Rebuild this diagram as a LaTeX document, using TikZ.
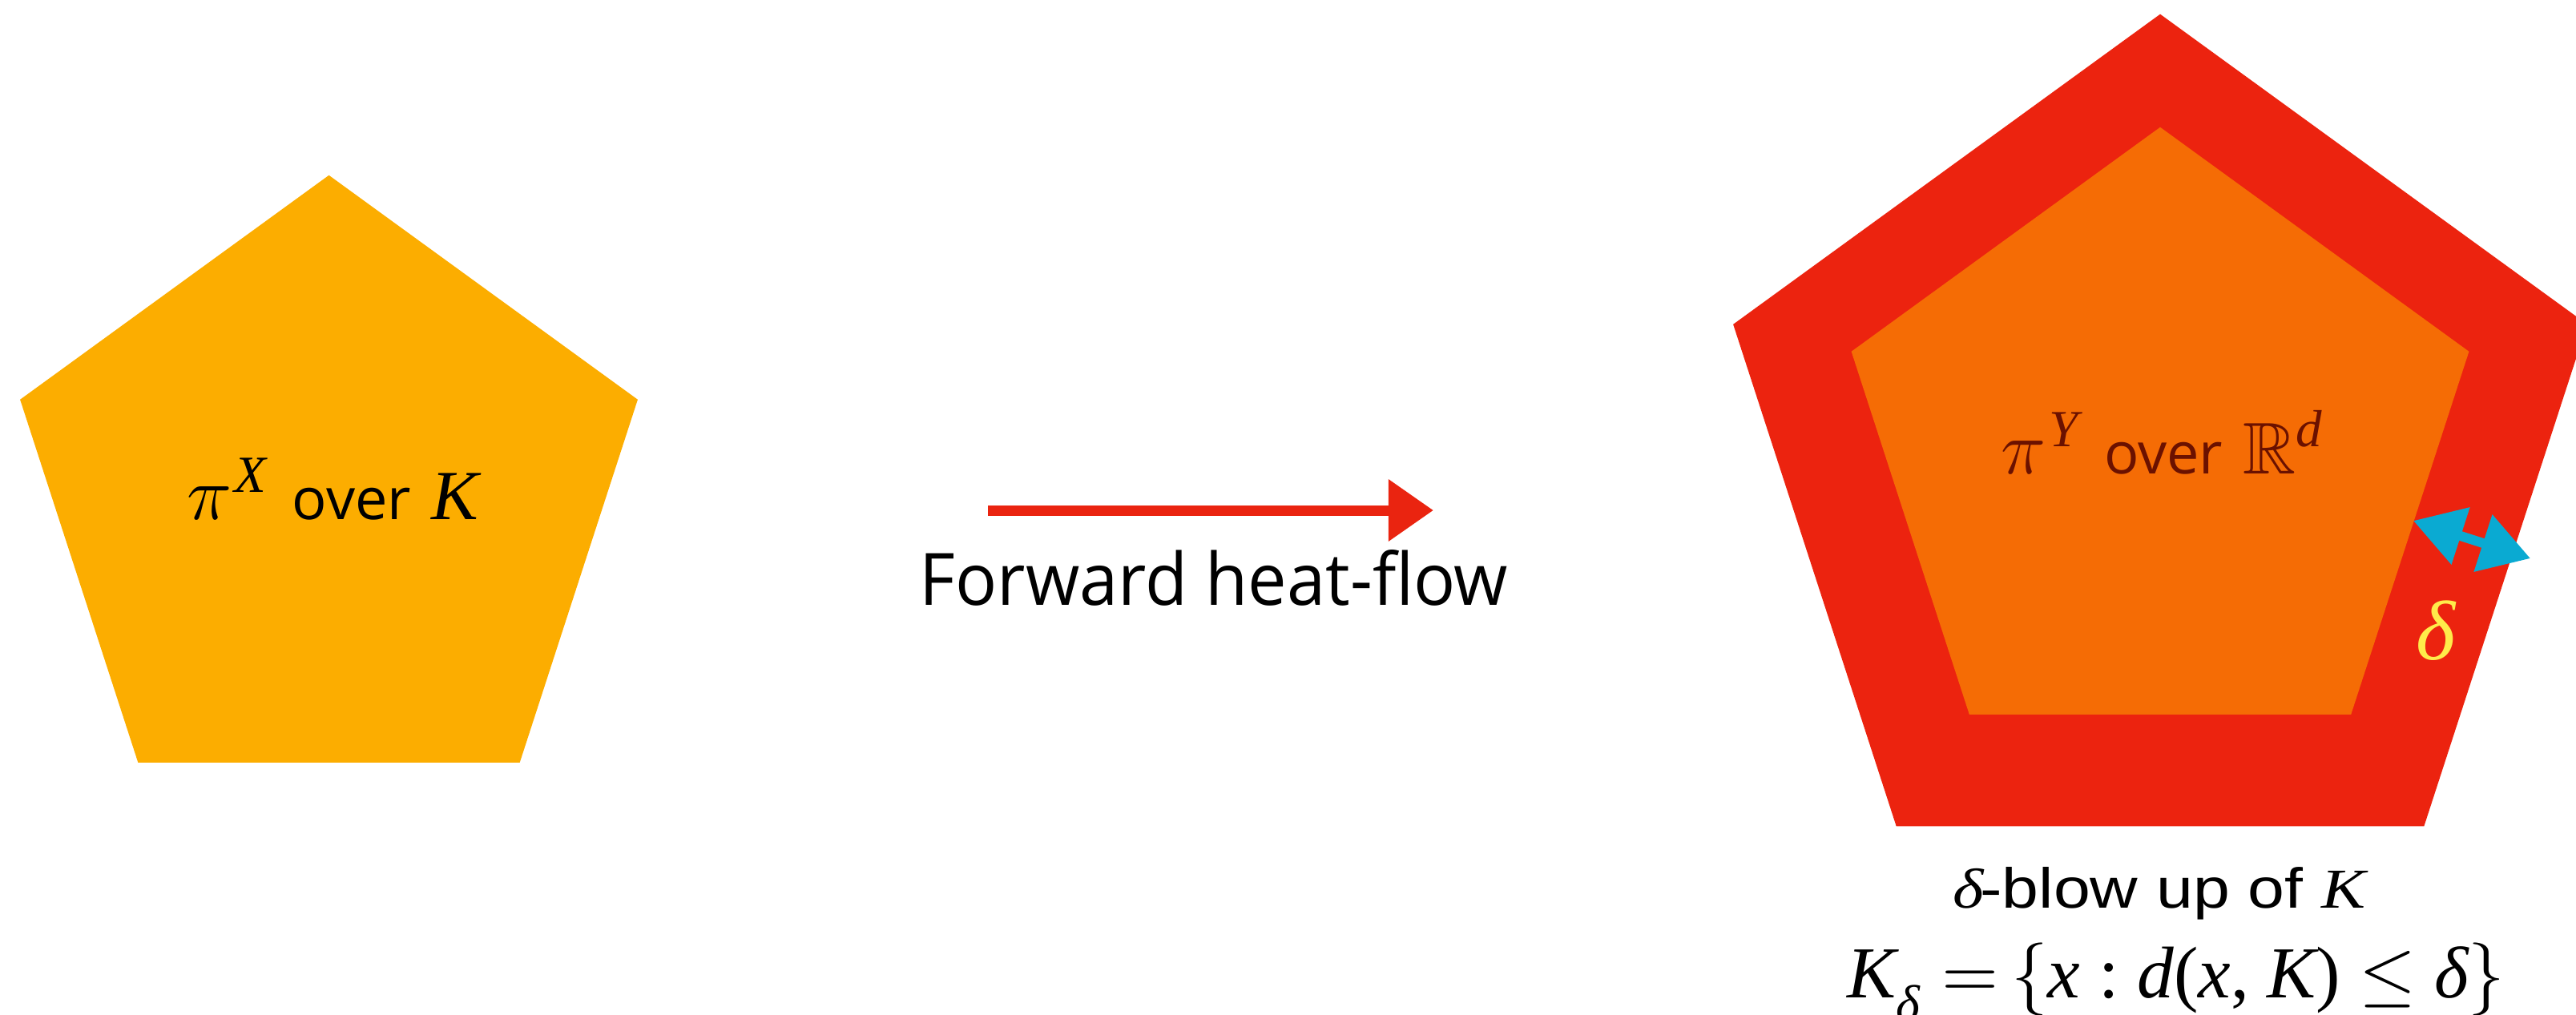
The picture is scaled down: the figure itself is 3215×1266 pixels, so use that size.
\RequirePackage{fix-cm}
\documentclass[tikz,border=0pt]{standalone}
\usepackage{amssymb}
\usepackage{fontspec}
\newfontfamily\osans{Open Sans}
\newfontfamily\lsans{Liberation Sans}
\newfontfamily\tms{Liberation Serif}
\usetikzlibrary{shapes.geometric,arrows.meta}
\definecolor{pyellow}{RGB}{252,173,0}
\definecolor{pred}{RGB}{236,35,15}
\definecolor{porange}{RGB}{245,108,5}
\definecolor{darkred}{RGB}{107,17,0}
\definecolor{arrred}{RGB}{234,36,16}
\definecolor{arrcyan}{RGB}{10,170,210}
\definecolor{dyellow}{RGB}{255,235,74}
\tikzset{
  pent/.style={regular polygon, regular polygon sides=5, inner sep=0pt, outer sep=0pt, draw=none},
  lab/.style={inner sep=0pt, font=\osans\fontsize{20.5}{24}\selectfont},
  flowarrow/.style={draw=arrred, line width=0.13cm, -{Triangle[length=0.56cm,width=0.74cm]}},
  deltaarrow/.style={draw=arrcyan, line width=0.12cm, {Triangle[length=0.62cm,width=0.72cm]}-{Triangle[length=0.62cm,width=0.72cm]}}
}
\newcommand{\tmi}[1]{{\tms\itshape #1}}
\newcommand{\bigit}[1]{{\fontsize{25}{30}\selectfont\tms\itshape #1}}
\newcommand{\bigpi}{{\fontsize{27}{32}\selectfont$\pi$}}
\newcommand{\supit}[1]{\raisebox{9.4pt}{\fontsize{18.5}{20}\selectfont\tms\itshape #1}}
\begin{document}
\begin{tikzpicture}[x=0.01cm,y=-0.01cm]
\clip (0,0) rectangle (3215,1266);
\useasboundingbox (0,0) rectangle (3215,1266);
% left pentagon
\node[pent, fill=pyellow, minimum size=8.1cm] (K) at (410.5,624) {};
\node[lab, anchor=base] (lK) at (415,648) {\bigpi\kern0.05em\supit{X}\hspace{0.45em}over\hspace{0.35em}\bigit{K}};
% right pentagons
\node[pent, fill=pred, minimum size=11.2cm] (Kd) at (2696,578) {};
\node[pent, fill=porange, minimum size=8.1cm] (Ki) at (2696,564) {};
\node[lab, anchor=base, text=darkred] (lY) at (2698,591) {\bigpi\kern0.05em\supit{Y}\hspace{0.45em}over\hspace{0.35em}{\fontsize{26}{30}\selectfont$\mathbb{R}$}\supit{d}};
% forward arrow
\coordinate (fa) at (1233,637);
\coordinate (fb) at (1789,637);
\draw[flowarrow] (fa) -- (fb);
\node[inner sep=0pt, anchor=base] (fw) at (1515,755) {\resizebox{7.34cm}{0.69cm}{\osans Forward heat-flow}};
% delta arrow
\coordinate (da) at (3012,650);
\coordinate (db) at (3158,697);
\draw[deltaarrow] (da) -- (db);
\node[inner sep=0pt, anchor=base, text=dyellow] (dl) at (3040,823) {\fontsize{30}{34}\selectfont\tms\itshape δ};
% bottom captions
\node[inner sep=0pt, anchor=base] (c1) at (2695,1133) {\resizebox{5.15cm}{0.51cm}{\tmi{δ}\lsans\kern-0.05em-blow up of \tmi{K}}};
\node[inner sep=0pt, anchor=base] (c2) at (2716,1245) {\resizebox{8.2cm}{!}{\tms\tmi{K}\raisebox{-0.32em}{\fontsize{7}{8}\selectfont\tmi{δ}}\kern0.3em${=}\,\{$\tmi{x}\kern0.25em:\kern0.25em\tmi{d}(\tmi{x}, \tmi{K})\kern0.25em$\le$\kern0.25em\tmi{δ}$\}$}};
\end{tikzpicture}
\end{document}
